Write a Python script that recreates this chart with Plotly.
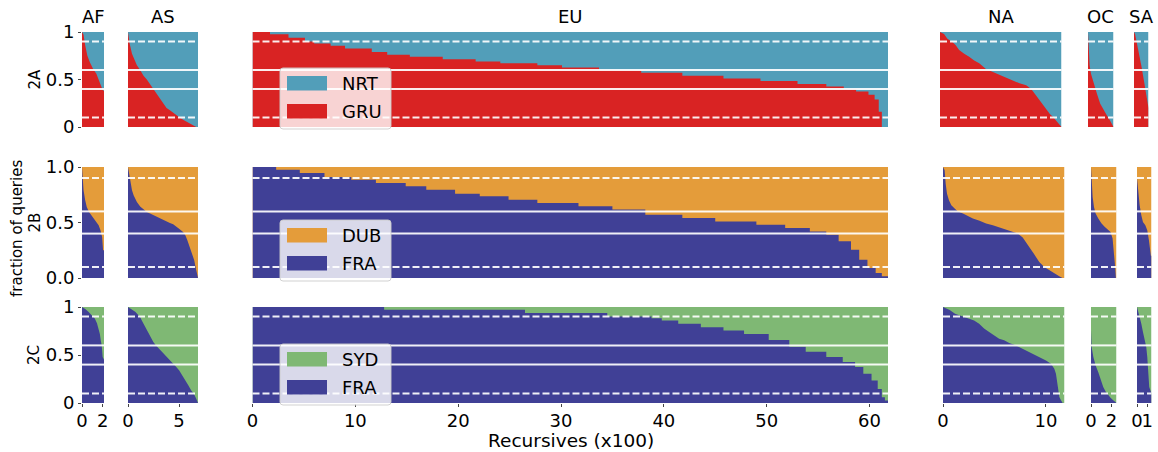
import plotly.graph_objects as go

W, H = 1158, 452
FONT = "DejaVu Sans"

regions = ["AF", "AS", "EU", "NA", "OC", "SA"]
row_labels = ["2A", "2B", "2C"]
upper_names = ["NRT", "DUB", "SYD"]
lower_names = ["GRU", "FRA", "FRA"]
colors = {"NRT": "#529EB9", "GRU": "#D92323", "DUB": "#E49C3A",
          "FRA": "#404096", "SYD": "#7FB874"}
x_ranges = {"AF": 2.13, "AS": 6.85, "EU": 61.8, "NA": 11.8, "OC": 2.48, "SA": 1.41}
x_tickvals = {"AF": [0, 2], "AS": [0, 5], "EU": [0, 10, 20, 30, 40, 50, 60],
              "NA": [0, 10], "OC": [0, 2], "SA": [0, 1]}
y_ticktext = [["0", "0.5", "1"], ["0.0", "0.5", "1.0"], ["0", "0.5", "1"]]
ref_lines_solid = [0.4, 0.6]
ref_lines_dashed = [0.1, 0.9]

# ---------------- data: recursives (x100) sorted, fraction to lower site ----------
# Row 2A : GRU (lower) vs NRT (upper)
x_2A_AF = [0, 0.15, 0.31, 0.52, 0.77, 1.08, 1.39, 1.64, 1.85, 2.0, 2.13]
f_2A_AF = [1.0, 0.97, 0.86, 0.75, 0.68, 0.61, 0.56, 0.49, 0.42, 0.39, 0.38]
x_2A_AS = [0, 0.16, 0.39, 0.65, 0.87, 1.19, 1.52, 1.84, 2.16, 2.48, 2.81, 3.13,
           3.45, 3.77, 4.1, 4.42, 4.74, 5.06, 5.39, 5.71, 6.03, 6.35, 6.68, 6.85]
f_2A_AS = [1.0, 0.88, 0.77, 0.70, 0.65, 0.60, 0.54, 0.50, 0.45, 0.40, 0.35, 0.30,
           0.245, 0.20, 0.175, 0.147, 0.12, 0.10, 0.077, 0.06, 0.035, 0.018, 0.0, 0.0]
x_2A_EU = [0, 1.7, 3.5, 5.1, 6.0, 7.6, 9.0, 11.6, 13.1, 15.3, 18.5, 21.7, 24.1,
           27.7, 30.1, 33.7, 37.8, 41.8, 45.8, 49.4, 53.0, 55.8, 57.5, 58.7, 59.9,
           60.5, 60.9, 61.2, 61.8]
f_2A_EU = [1.0, 0.976, 0.94, 0.90, 0.88, 0.854, 0.826, 0.79, 0.76, 0.74, 0.714,
           0.69, 0.67, 0.65, 0.627, 0.60, 0.57, 0.54, 0.51, 0.484, 0.453, 0.425,
           0.40, 0.373, 0.34, 0.29, 0.16, 0.0, 0.0]
x_2A_NA = [0, 0.39, 0.72, 1.21, 1.53, 1.86, 2.35, 2.83, 3.32, 3.81, 4.46, 5.11,
           5.77, 6.42, 7.07, 7.72, 8.37, 8.86, 9.35, 9.67, 10.16, 10.65, 10.98,
           11.3, 11.63, 11.8]
f_2A_NA = [1.0, 0.98, 0.93, 0.895, 0.86, 0.81, 0.77, 0.74, 0.70, 0.67, 0.61, 0.58,
           0.555, 0.52, 0.49, 0.46, 0.44, 0.40, 0.33, 0.28, 0.21, 0.14, 0.105,
           0.063, 0.018, 0.0]
x_2A_OC = [0, 0.06, 0.16, 0.29, 0.55, 0.87, 1.19, 1.52, 1.84, 2.1, 2.32, 2.48]
f_2A_OC = [1.0, 0.8, 0.65, 0.56, 0.46, 0.35, 0.245, 0.175, 0.12, 0.077, 0.04, 0.0]
x_2A_SA = [0, 0.1, 0.26, 0.42, 0.58, 0.74, 0.9, 1.06, 1.23, 1.35, 1.41]
f_2A_SA = [1.0, 0.98, 0.895, 0.81, 0.74, 0.63, 0.53, 0.42, 0.32, 0.21, 0.2]

# Row 2B : FRA (lower) vs DUB (upper)
x_2B_AF = [0, 0.09, 0.15, 0.31, 0.46, 0.68, 0.93, 1.17, 1.39, 1.61, 1.79, 1.95,
           2.04, 2.13]
f_2B_AF = [1.0, 0.88, 0.79, 0.70, 0.64, 0.595, 0.565, 0.535, 0.505, 0.475, 0.43,
           0.37, 0.25, 0.25]
x_2B_AS = [0, 0.1, 0.23, 0.39, 0.55, 0.87, 1.19, 1.52, 1.84, 2.16, 2.48, 2.81,
           3.13, 3.45, 3.77, 4.1, 4.42, 4.74, 5.06, 5.39, 5.61, 5.81, 6.03, 6.29,
           6.48, 6.61, 6.74, 6.85]
f_2B_AS = [1.0, 0.94, 0.85, 0.79, 0.745, 0.685, 0.645, 0.615, 0.595, 0.58, 0.565,
           0.55, 0.535, 0.52, 0.51, 0.495, 0.485, 0.465, 0.44, 0.415, 0.385, 0.34,
           0.28, 0.22, 0.16, 0.10, 0.04, 0.0]
x_2B_EU = [0, 2.3, 4.6, 7.0, 9.6, 12.0, 14.9, 16.9, 19.7, 22.1, 24.9, 27.7, 31.7,
           35.0, 38.2, 41.8, 45.0, 49.0, 51.8, 54.2, 55.8, 57.0, 58.2, 59.0, 59.8,
           60.6, 61.2, 61.8]
f_2B_EU = [1.0, 0.976, 0.946, 0.91, 0.886, 0.856, 0.826, 0.796, 0.76, 0.736,
           0.706, 0.676, 0.646, 0.616, 0.57, 0.54, 0.51, 0.48, 0.45, 0.42, 0.39,
           0.33, 0.255, 0.165, 0.09, 0.045, 0.015, 0.015]
x_2B_NA = [0, 0.16, 0.26, 0.39, 0.58, 0.81, 1.13, 1.45, 1.94, 2.42, 2.9, 3.55,
           4.19, 4.84, 5.48, 6.13, 6.77, 7.26, 7.74, 8.06, 8.39, 8.71, 9.03, 9.35,
           9.84, 10.32, 10.81, 11.29, 11.61, 11.8]
f_2B_NA = [1.0, 0.97, 0.85, 0.76, 0.70, 0.655, 0.625, 0.60, 0.58, 0.555, 0.535,
           0.515, 0.49, 0.475, 0.455, 0.435, 0.42, 0.40, 0.365, 0.325, 0.28, 0.235,
           0.19, 0.145, 0.10, 0.07, 0.04, 0.015, 0.0, 0.0]
x_2B_OC = [0, 0.06, 0.16, 0.29, 0.45, 0.71, 1.03, 1.35, 1.68, 1.9, 2.1, 2.23,
           2.32, 2.42, 2.48]
f_2B_OC = [1.0, 0.85, 0.73, 0.64, 0.58, 0.535, 0.49, 0.46, 0.435, 0.415, 0.355,
           0.25, 0.13, 0.0, 0.0]
x_2B_SA = [0, 0.13, 0.26, 0.42, 0.58, 0.81, 1.0, 1.16, 1.26, 1.35, 1.41]
f_2B_SA = [0.9, 0.76, 0.655, 0.565, 0.505, 0.475, 0.43, 0.34, 0.25, 0.2, 0.2]

# Row 2C : FRA (lower) vs SYD (upper)
x_2C_AF = [0, 0.31, 0.62, 0.93, 1.24, 1.45, 1.61, 1.73, 1.82, 1.91, 2.0, 2.13]
f_2C_AF = [1.0, 0.98, 0.95, 0.91, 0.88, 0.83, 0.77, 0.72, 0.65, 0.60, 0.48, 0.45]
x_2C_AS = [0, 0.23, 0.48, 0.71, 0.94, 1.19, 1.35, 1.52, 1.74, 2.0, 2.23, 2.48,
           2.74, 3.06, 3.39, 3.71, 4.03, 4.35, 4.68, 5.0, 5.32, 5.65, 5.9, 6.19,
           6.45, 6.68, 6.85]
f_2C_AS = [1.0, 0.98, 0.965, 0.95, 0.925, 0.895, 0.86, 0.826, 0.79, 0.74, 0.69,
           0.635, 0.60, 0.565, 0.53, 0.495, 0.46, 0.427, 0.38, 0.34, 0.288, 0.236,
           0.184, 0.13, 0.097, 0.045, 0.0]
x_2C_EU = [0, 12.8, 26.5, 34.5, 38.8, 39.8, 41.4, 43.6, 45.8, 47.8, 50.2, 52.2,
           53.8, 55.8, 57.4, 58.6, 59.4, 60.2, 60.8, 61.2, 61.5, 61.8]
f_2C_EU = [1.0, 0.972, 0.937, 0.90, 0.884, 0.86, 0.825, 0.79, 0.754, 0.72, 0.656,
           0.586, 0.533, 0.48, 0.428, 0.375, 0.305, 0.235, 0.147, 0.06, 0.025, 0.025]
x_2C_NA = [0, 0.65, 1.17, 2.05, 2.53, 3.02, 3.51, 3.99, 4.48, 4.97, 5.45, 5.94,
           6.43, 6.92, 7.4, 8.05, 8.7, 9.35, 10.0, 10.49, 10.81, 10.97, 11.07,
           11.17, 11.3, 11.46, 11.62, 11.8]
f_2C_NA = [1.0, 0.97, 0.93, 0.90, 0.88, 0.86, 0.826, 0.775, 0.74, 0.705, 0.67,
           0.653, 0.625, 0.608, 0.583, 0.549, 0.514, 0.48, 0.444, 0.41, 0.358,
           0.305, 0.236, 0.132, 0.063, 0.028, 0.0, 0.0]
x_2C_OC = [0, 0.06, 0.23, 0.45, 0.71, 0.97, 1.19, 1.45, 1.68, 1.9, 2.16, 2.42, 2.48]
f_2C_OC = [0.757, 0.583, 0.48, 0.39, 0.32, 0.236, 0.167, 0.115, 0.08, 0.055,
           0.028, 0.0, 0.0]
x_2C_SA = [0, 0.13, 0.26, 0.42, 0.58, 0.74, 0.9, 1.0, 1.1, 1.19, 1.41]
f_2C_SA = [1.0, 0.95, 0.895, 0.826, 0.74, 0.653, 0.583, 0.48, 0.34, 0.167, 0.1]

data = {
    "2A": {"AF": (x_2A_AF, f_2A_AF), "AS": (x_2A_AS, f_2A_AS), "EU": (x_2A_EU, f_2A_EU),
           "NA": (x_2A_NA, f_2A_NA), "OC": (x_2A_OC, f_2A_OC), "SA": (x_2A_SA, f_2A_SA)},
    "2B": {"AF": (x_2B_AF, f_2B_AF), "AS": (x_2B_AS, f_2B_AS), "EU": (x_2B_EU, f_2B_EU),
           "NA": (x_2B_NA, f_2B_NA), "OC": (x_2B_OC, f_2B_OC), "SA": (x_2B_SA, f_2B_SA)},
    "2C": {"AF": (x_2C_AF, f_2C_AF), "AS": (x_2C_AS, f_2C_AS), "EU": (x_2C_EU, f_2C_EU),
           "NA": (x_2C_NA, f_2C_NA), "OC": (x_2C_OC, f_2C_OC), "SA": (x_2C_SA, f_2C_SA)},
}

# ---------------- layout geometry (pixels) ----------------
row_px = [(32, 127), (167, 278), (307, 403)]
col_px_rows = [
    {"AF": (82, 104), "AS": (128, 198), "EU": (252.5, 888), "NA": (940, 1061.5),
     "OC": (1088, 1113.5), "SA": (1134, 1148.5)},
    {"AF": (82, 104), "AS": (128, 198), "EU": (252.5, 888), "NA": (943, 1064.5),
     "OC": (1091, 1116.5), "SA": (1137, 1151.5)},
    {"AF": (82, 104), "AS": (128, 198), "EU": (252.5, 888), "NA": (943, 1064.5),
     "OC": (1091, 1116.5), "SA": (1137, 1151.5)},
]
legend_top_px = [68, 220, 344]


def px(x):
    return x / W


def py(y):
    return 1 - y / H


fig = go.Figure()
layout = dict(template="none", width=W, height=H, autosize=False,
              margin=dict(l=0, r=0, t=0, b=0, pad=0, autoexpand=False),
              paper_bgcolor="white", plot_bgcolor="white",
              showlegend=False, font=dict(family=FONT, size=18, color="black"))
shapes = []
annotations = []

for r, rl in enumerate(row_labels):
    for c, reg in enumerate(regions):
        n = r * 6 + c + 1
        xa = "x" if n == 1 else f"x{n}"
        ya = "y" if n == 1 else f"y{n}"
        xs, fr = data[rl][reg]
        shape = "hv" if reg == "EU" else "linear"
        total = [1.0] * len(xs)
        fig.add_trace(go.Scatter(x=xs, y=total, xaxis=xa, yaxis=ya, mode="lines",
                                 fill="tozeroy", fillcolor=colors[upper_names[r]],
                                 line=dict(width=0, shape=shape),
                                 name=upper_names[r], hoverinfo="skip"))
        fig.add_trace(go.Scatter(x=xs, y=fr, xaxis=xa, yaxis=ya, mode="lines",
                                 fill="tozeroy", fillcolor=colors[lower_names[r]],
                                 line=dict(width=0, shape=shape),
                                 name=lower_names[r], hoverinfo="skip"))
        x0, x1 = col_px_rows[r][reg]
        y0, y1 = row_px[r]
        bottom = (r == 2)
        left = (c == 0)
        layout["xaxis" if n == 1 else f"xaxis{n}"] = dict(
            domain=[px(x0), px(x1)], range=[0, x_ranges[reg]], anchor=ya,
            showgrid=False, zeroline=False, showline=False, automargin=False,
            tickmode="array", tickvals=x_tickvals[reg], showticklabels=bottom,
            tickangle=0, ticklabelstandoff=-2,
            ticks="outside" if bottom else "", ticklen=3, tickwidth=1,
            tickcolor="#444", tickfont=dict(size=18, family=FONT),
            fixedrange=True)
        layout["yaxis" if n == 1 else f"yaxis{n}"] = dict(
            domain=[py(y1), py(y0)], range=[0, 1], anchor=xa,
            showgrid=False, zeroline=False, showline=False, automargin=False,
            tickmode="array", tickvals=[0, 0.5, 1], ticktext=y_ticktext[r],
            showticklabels=left, tickangle=0,
            ticks="outside" if left else "", ticklen=3, tickwidth=1,
            tickcolor="#444", tickfont=dict(size=18, family=FONT),
            fixedrange=True)
        xd = ("x" if n == 1 else f"x{n}") + " domain"
        for v in ref_lines_solid:
            shapes.append(dict(type="line", xref=xd, yref=ya, x0=0, x1=1, y0=v, y1=v,
                               line=dict(color="rgba(255,255,255,0.92)", width=2)))
        for v in ref_lines_dashed:
            shapes.append(dict(type="line", xref=xd, yref=ya, x0=0, x1=1, y0=v, y1=v,
                               line=dict(color="rgba(255,255,255,0.92)", width=2,
                                         dash="7px,3px")))

# column titles
for reg in regions:
    x0, x1 = col_px_rows[0][reg]
    annotations.append(dict(text=reg, x=px((x0 + x1) / 2), y=py(16), xref="paper",
                            yref="paper", showarrow=False, xanchor="center",
                            yanchor="middle", font=dict(size=18, family=FONT)))

# row labels
for r, rl in enumerate(row_labels):
    y0, y1 = row_px[r]
    annotations.append(dict(text=rl, x=px(34), y=py((y0 + y1) / 2), xref="paper",
                            yref="paper", showarrow=False, textangle=-90,
                            xanchor="center", yanchor="middle",
                            font=dict(size=15, family=FONT)))

annotations.append(dict(text="fraction of queries", x=px(17), y=py(229), xref="paper",
                        yref="paper", showarrow=False, textangle=-90, xanchor="center",
                        yanchor="middle", font=dict(size=15, family=FONT)))
annotations.append(dict(text="Recursives (x100)", x=px(571), y=py(452), xref="paper",
                        yref="paper", showarrow=False, xanchor="center",
                        yanchor="bottom", yshift=-1, font=dict(size=18.5, family=FONT)))


def rrect(x0, y0, x1, y1, rad=3):
    return (f"M {px(x0 + rad)},{py(y0)} L {px(x1 - rad)},{py(y0)} "
            f"Q {px(x1)},{py(y0)} {px(x1)},{py(y0 + rad)} L {px(x1)},{py(y1 - rad)} "
            f"Q {px(x1)},{py(y1)} {px(x1 - rad)},{py(y1)} L {px(x0 + rad)},{py(y1)} "
            f"Q {px(x0)},{py(y1)} {px(x0)},{py(y1 - rad)} L {px(x0)},{py(y0 + rad)} "
            f"Q {px(x0)},{py(y0)} {px(x0 + rad)},{py(y0)} Z")


# legends (one per row, inside the EU panel)
for r in range(3):
    t = legend_top_px[r]
    shapes.append(dict(type="path", xref="paper", yref="paper",
                       path=rrect(280, t, 391, t + 61),
                       fillcolor="rgba(255,255,255,0.8)",
                       line=dict(color="rgba(204,204,204,0.9)", width=1)))
    for k, (nm, off) in enumerate([(upper_names[r], 8), (lower_names[r], 36)]):
        shapes.append(dict(type="rect", xref="paper", yref="paper",
                           x0=px(287), x1=px(327), y0=py(t + off + 14.5), y1=py(t + off),
                           fillcolor=colors[nm], line=dict(width=0)))
        annotations.append(dict(text=nm, x=px(340), y=py(t + off + 7.5), xref="paper",
                                yref="paper", showarrow=False, xanchor="left",
                                yanchor="middle", font=dict(size=18, family=FONT)))

layout["shapes"] = shapes
layout["annotations"] = annotations
fig.update_layout(**layout)
fig.write_html("out.html")
